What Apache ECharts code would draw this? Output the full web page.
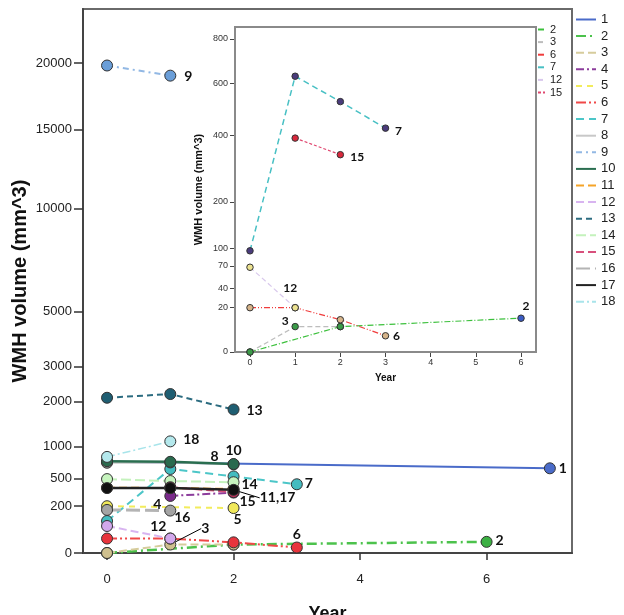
<!DOCTYPE html>
<html><head><meta charset="utf-8">
<script src="https://cdn.jsdelivr.net/npm/echarts@6/dist/echarts.min.js"></script>
<style>html,body{margin:0;padding:0;background:#fff}#c{width:624px;height:615px}</style>
</head><body><div id="c"></div>
<script>
// ---------------- data (year, WMH volume mm^3) ----------------
const s1 = [[0,740],[7,640]];
const s2 = [[0,0],[2,7],[6,12]];
const s3 = [[0,0],[1,7],[2,7]];
const s4 = [[1,295],[2,330]];
const s5 = [[0,200],[2,185]];
const s6 = [[0,20],[1,20],[2,11],[3,3]];
const s7 = [[0,95],[1,630],[2,525],[3,425]];
const s8 = [[0,725],[1,730],[2,700]];
const s9 = [[0,19800],[1,19000]];
const s10 = [[0,750],[1,740],[2,705]];
const s11 = [[0,385],[1,380],[2,370]];
const s12 = [[0,68],[1,20]];
const s13 = [[0,2100],[1,2200],[2,1800]];
const s14 = [[0,490],[1,465],[2,450]];
const s15 = [[1,390],[2,335]];
const s16 = [[0,170],[1,165]];
const s17 = [[0,380],[1,380],[2,360]];
const s18 = [[0,820],[1,1100]];
const seriesNames = ['1','2','3','4','5','6','7','8','9','10','11','12','13','14','15','16','17','18'];
const insetNames = ['2','3','6','7','12','15'];
const mainYTicks = [0,200,500,1000,2000,3000,5000,10000,15000,20000];
const insetYTicks = [0,20,40,70,100,200,400,600,800];
const mainXTicks = [0,2,4,6];
const insetXTicks = [0,1,2,3,4,5,6];

const dataById = {'1':s1,'2':s2,'3':s3,'4':s4,'5':s5,'6':s6,'7':s7,'8':s8,'9':s9,'10':s10,
  '11':s11,'12':s12,'13':s13,'14':s14,'15':s15,'16':s16,'17':s17,'18':s18};

// ---------------- scales (power transforms) ----------------
const PM = 0.51, PI = 0.53;
const tm = v => Math.pow(v, PM);
const ti = v => Math.pow(v, PI);

// ---------------- styles ----------------
const mainStyle = {
 '1': {c:'#4a6bc9', t:'solid', w:2, m:'#4a6bc9'},
 '2': {c:'#4cc24c', t:[10,4,2,4], w:2.5, m:'#3cb043'},
 '3': {c:'#d6cc9c', t:[8,4], w:2, m:'#cfc08e'},
 '4': {c:'#8c3c9c', t:[8,3,2,3], w:2, m:'#7a2a8a'},
 '5': {c:'#f2ec5c', t:[6,5], w:2, m:'#f0e85a'},
 '6': {c:'#f04848', t:[10,3,2,3,2,3], w:2, m:'#e8343c'},
 '7': {c:'#4cc6c8', t:[8,5], w:2, m:'#44bcc0'},
 '8': {c:'#c8c8c8', t:'solid', w:2, m:'#9c9c9c'},
 '9': {c:'#92b8e4', t:[6,4,2,4], w:2, m:'#6a9ed8'},
 '10': {c:'#2a6e50', t:'solid', w:2.5, m:'#2a6a4e'},
 '11': {c:'#f5a428', t:[8,4], w:2, m:'#f0a020'},
 '12': {c:'#d8b4f0', t:[8,4], w:2, m:'#d2a8ec'},
 '13': {c:'#2c6c80', t:[6,4], w:2, m:'#1f5e72'},
 '14': {c:'#c4f2bc', t:[10,4], w:2, m:'#c6f4be'},
 '15': {c:'#d8507c', t:[8,4], w:2, m:'#c0305c'},
 '16': {c:'#b4b4b4', t:[14,5], w:3, m:'#a4a4a4'},
 '17': {c:'#222222', t:'solid', w:2.5, m:'#111111'},
 '18': {c:'#a8e4ea', t:[8,3,2,3], w:1.5, m:'#b4e8ec'}
};
const insetStyle = {
 '2': {c:'#3cc03c', t:[6,2,1,2], w:1.2, m:'#3a9a48', last:'#3b5cc4'},
 '3': {c:'#bdbdbd', t:[5,3], w:1.2, m:'#3a9a48'},
 '6': {c:'#f03c3c', t:[6,2,1,2,1,2], w:1.2, m:'#d6b48a'},
 '7': {c:'#48c0c4', t:[6,4], w:1.5, m:'#4a3c7c'},
 '12': {c:'#d8c8ec', t:[5,3], w:1.2, m:'#ece290'},
 '15': {c:'#e04870', t:[3,2], w:1.2, m:'#d8283c'}
};
// annotation labels: point index, text, offset of label centre
const mainLab = {
 '9': [{i:1,t:'9',o:[18,1]}],
 '13': [{i:2,t:'13',o:[21,1]}],
 '18': [{i:1,t:'18',o:[21,-2]}],
 '10': [{i:2,t:'10',o:[0,-14]}],
 '8': [{i:2,t:'8',o:[-19,-8]}],
 '1': [{i:1,t:'1',o:[13,0]}],
 '7': [{i:3,t:'7',o:[12,-1]}],
 '14': [{i:2,t:'14',o:[16,2]}],
 '15': [{i:1,t:'15',o:[14,9]}],
 '17': [{i:2,t:'11,17',o:[44,8],lead:true}],
 '4': [{i:0,t:'4',o:[-13,9]}],
 '16': [{i:1,t:'16',o:[12,7]}],
 '5': [{i:1,t:'5',o:[4,11]}],
 '12': [{i:1,t:'12',o:[-12,-12]}],
 '3': [{i:1,t:'3',o:[35,-16],lead:true}],
 '6': [{i:3,t:'6',o:[0,-13]}],
 '2': [{i:2,t:'2',o:[13,-1]}]
};
const insetLab = {
 '7': [{i:3,t:'7',o:[13,3]}],
 '15': [{i:1,t:'15',o:[17,2]}],
 '12': [{i:1,t:'12',o:[-5,-20]}],
 '3': [{i:1,t:'3',o:[-10,-5]}],
 '6': [{i:3,t:'6',o:[11,0]}],
 '2': [{i:2,t:'2',o:[5,-12]}]
};

const FONT = 'Liberation Sans';
const LABFONT = 'Lato';

function buildSeries(id, inset) {
  const st = inset ? insetStyle[id] : mainStyle[id];
  const labs = (inset ? insetLab : mainLab)[id] || [];
  const tf = inset ? ti : tm;
  const fs = inset ? 12 : 14;
  const leadIdx = {};
  const data = dataById[id].map((d, k) => {
    const item = {value: [d[0], tf(d[1])]};
    if (inset && st.last && k === dataById[id].length - 1) item.itemStyle = {color: st.last};
    const lb = labs.find(l => l.i === k);
    if (lb) {
      item.label = {show: true, formatter: lb.t, position: 'inside', align: 'center', verticalAlign: 'middle',
        color: '#111', fontFamily: LABFONT, fontWeight: 'bold', fontSize: fs};
      if (lb.lead) { leadIdx[k] = lb.o; } else { item.label.offset = lb.o; }
    }
    return item;
  });
  const s = {
    type: 'line', name: inset ? 'i' + id : id,
    xAxisIndex: inset ? 1 : 0, yAxisIndex: inset ? 1 : 0,
    data: data, symbol: 'circle', symbolSize: inset ? 6.5 : 11, showAllSymbol: true,
    lineStyle: {color: st.c, type: st.t, width: st.w},
    itemStyle: {color: st.m, borderColor: '#333', borderWidth: 1},
    label: {show: false}, emphasis: {disabled: true}, z: inset ? 10 : 3
  };
  if (Object.keys(leadIdx).length) {
    s.labelLine = {show: true, lineStyle: {color: '#000', width: 1}};
    s.labelLayout = function (p) {
      const o = leadIdx[p.dataIndex];
      return o ? {dx: o[0], dy: o[1]} : {};
    };
  }
  return s;
}

const series = seriesNames.map(n => buildSeries(n, false))
  .concat(insetNames.map(n => buildSeries(n, true)));

const MAIN = {left: 83, top: 9, w: 489, h: 544};
const INS = {left: 235, top: 27, w: 301, h: 325};
const mainYMax = tm(20000) * 544 / 490;
const insetYMax = ti(800) * 325 / 313;

const option = {
  animation: false,
  backgroundColor: '#fff',
  grid: [
    {left: MAIN.left, top: MAIN.top, width: MAIN.w, height: MAIN.h, show: true, borderColor: '#6a6a6a', borderWidth: 2,
     backgroundColor: 'transparent', z: 0, containLabel: false, outerBoundsMode: 'none'},
    {left: INS.left, top: INS.top, width: INS.w, height: INS.h, show: true, borderColor: '#8a8a8a', borderWidth: 2,
     backgroundColor: '#fff', z: 5, containLabel: false, outerBoundsMode: 'none'}
  ],
  xAxis: [
    {type: 'value', gridIndex: 0, min: -0.38, max: 7.35,
     axisLine: {show: true, onZero: false, lineStyle: {color: '#444', width: 2}},
     axisTick: {show: true, length: 7, customValues: mainXTicks, lineStyle: {color: '#333', width: 1.5}},
     axisLabel: {customValues: mainXTicks, margin: 20, fontSize: 13, fontFamily: FONT, color: '#222'},
     splitLine: {show: false},
     name: 'Year', nameLocation: 'middle', nameGap: 52, nameMoveOverlap: false,
     nameTextStyle: {fontSize: 18, fontWeight: 'bold', fontFamily: FONT, color: '#111'}},
    {type: 'value', gridIndex: 1, min: -0.332, max: 6.332,
     axisLine: {show: true, onZero: false, lineStyle: {color: '#666', width: 1.5}},
     axisTick: {show: true, length: 5, customValues: insetXTicks, lineStyle: {color: '#444', width: 1}},
     axisLabel: {customValues: insetXTicks, margin: 6, fontSize: 9, fontFamily: FONT, color: '#333'},
     splitLine: {show: false},
     name: 'Year', nameLocation: 'middle', nameGap: 21, nameMoveOverlap: false,
     nameTextStyle: {fontSize: 10, fontWeight: 'bold', fontFamily: FONT, color: '#111'}}
  ],
  yAxis: [
    {type: 'value', gridIndex: 0, min: 0, max: mainYMax,
     axisLine: {show: true, onZero: false, lineStyle: {color: '#444', width: 2}},
     axisTick: {show: true, length: 9, customValues: mainYTicks.map(tm), lineStyle: {color: '#333', width: 1.5}},
     axisLabel: {customValues: mainYTicks.map(tm), margin: 11, fontSize: 13, fontFamily: FONT, color: '#222',
       formatter: v => String(Math.round(Math.pow(v, 1 / PM)))},
     splitLine: {show: false},
     name: 'WMH volume (mm^3)', nameLocation: 'middle', nameGap: 53, nameMoveOverlap: false,
     nameTextStyle: {fontSize: 20, fontWeight: 'bold', fontFamily: FONT, color: '#111'}},
    {type: 'value', gridIndex: 1, min: 0, max: insetYMax,
     axisLine: {show: true, onZero: false, lineStyle: {color: '#666', width: 1.5}},
     axisTick: {show: true, length: 5, customValues: insetYTicks.map(ti), lineStyle: {color: '#444', width: 1}},
     axisLabel: {customValues: insetYTicks.map(ti), margin: 7, fontSize: 9, fontFamily: FONT, color: '#333',
       formatter: v => String(Math.round(Math.pow(v, 1 / PI)))},
     splitLine: {show: false},
     name: 'WMH volume (mm^3)', nameLocation: 'middle', nameGap: 31, nameMoveOverlap: false,
     nameTextStyle: {fontSize: 11, fontWeight: 'bold', fontFamily: FONT, color: '#111'}}
  ],
  legend: [
    {data: seriesNames, orient: 'vertical', left: 575, top: 13, padding: 0,
     itemWidth: 20, itemHeight: 13, itemGap: 3.6, selectedMode: false,
     itemStyle: {opacity: 0},
     textStyle: {fontSize: 13, fontFamily: FONT, color: '#222', padding: [0, 0, 0, 0]}},
    {data: insetNames.map(n => 'i' + n), orient: 'vertical', left: 537, top: 24, padding: 0,
     itemWidth: 7, itemHeight: 6, itemGap: 1.6, selectedMode: false,
     itemStyle: {opacity: 0},
     formatter: n => n.slice(1),
     textStyle: {fontSize: 11, lineHeight: 9, fontFamily: FONT, color: '#222'}}
  ],
  series: series
};

const chart = echarts.init(document.getElementById('c'), null, {renderer: 'canvas'});
chart.setOption(option);
</script></body></html>
